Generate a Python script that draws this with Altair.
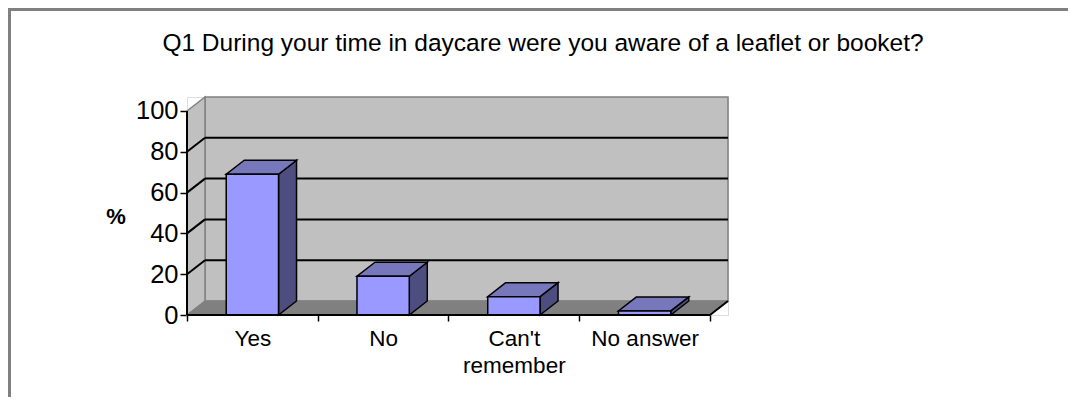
import json
import altair as alt
import pandas as pd

# ---------------- data ----------------
title_text = "Q1 During your time in daycare were you aware of a leaflet or booket?"
categories = ["Yes", "No", "Can't remember", "No answer"]
label_lines = [["Yes"], ["No"], ["Can't", "remember"], ["No answer"]]
percent = [69, 19, 9, 2]
y_ticks = [0, 20, 40, 60, 80, 100]
grid_values = [20, 40, 60, 80]
y_title = "%"

# ---------------- style / geometry ----------------
FONT = "Liberation Sans"
W, H = 541, 218
PAD = {"left": 179, "top": 89, "right": 340, "bottom": 82}
N = len(categories)
DX = 0.1377          # depth offset in category units
DY = 6.86            # depth offset in value units
BL, BR = 0.3, 0.7    # bar front face within band
XMAX = N + DX
YMAX = 100 + DY
BAND_PX = W / XMAX

FRONT = "#9999ff"
TOP = "#7777bb"
SIDE = "#4d4d80"
WALL = "#c0c0c0"
FLOOR = "#808080"
EDGE = "#808080"

xs = alt.Scale(domain=[0, XMAX], nice=False, zero=False)
ys = alt.Scale(domain=[0, YMAX], nice=False, zero=False)

label_expr = json.dumps(label_lines + [""]) + "[datum.value]"

x_axis = alt.Axis(
    values=list(range(N + 1)), tickSize=6, tickColor="black", tickWidth=1.5,
    domain=False, grid=False, labelExpr=label_expr, labelOffset=BAND_PX / 2,
    labelFlush=False, labelOverlap=False, labelFontSize=22.5, labelFont=FONT,
    labelColor="black", labelPadding=6, labelBaseline="top", labelLineHeight=27,
    labelAlign="center", title=None,
)
y_axis = alt.Axis(
    values=y_ticks, tickSize=7, tickColor="black", tickWidth=1.5, domain=False,
    grid=False, labelFontSize=25.5, labelFont=FONT, labelColor="black",
    labelPadding=2, labelFlush=False, labelOverlap=False,
    title=y_title, titleAngle=0, titleX=-71.5, titleY=119, titleAlign="center",
    titleBaseline="middle", titleFontSize=22, titleFontWeight="bold",
    titleFont=FONT, titleColor="black",
)


def X(field="x", **kw):
    return alt.X(f"{field}:Q", scale=xs, axis=x_axis, **kw)


def Y(field="y", **kw):
    return alt.Y(f"{field}:Q", scale=ys, axis=y_axis, **kw)


# ---------------- frame pieces ----------------
back_wall = pd.DataFrame({"x": [DX], "x2": [XMAX], "y": [DY], "y2": [YMAX]})
side_wall = pd.DataFrame({"x": [0, DX], "y": [100, YMAX], "y2": [0, DY]})
floor = pd.DataFrame({"y": [0, DY], "x": [0, DX], "x2": [N, XMAX]})
grid_back = pd.DataFrame({"x": DX, "x2": XMAX, "y": [v + DY for v in grid_values]})
grid_side = pd.DataFrame({"x": 0, "x2": DX, "y": grid_values,
                          "y2": [v + DY for v in grid_values]})
front_lines = pd.DataFrame({"x": [0, 0, N], "x2": [0, N, XMAX],
                            "y": [0, 0, 0], "y2": [100, 0, DY]})

# ---------------- bars ----------------
bar_front = pd.DataFrame({
    "cat": categories,
    "x": [i + BL for i in range(N)],
    "x2": [i + BR for i in range(N)],
    "y": [0] * N,
    "y2": percent,
})
top_rows, side_rows = [], []
for i, (c, v) in enumerate(zip(categories, percent)):
    top_rows.append({"cat": c, "y": v, "x": i + BL, "x2": i + BR})
    top_rows.append({"cat": c, "y": v + DY, "x": i + BL + DX, "x2": i + BR + DX})
    side_rows.append({"cat": c, "x": i + BR, "y": v, "y2": 0})
    side_rows.append({"cat": c, "x": i + BR + DX, "y": v + DY, "y2": DY})
bar_top = pd.DataFrame(top_rows)
bar_side = pd.DataFrame(side_rows)

l_back = alt.Chart(back_wall).mark_rect(fill=WALL, stroke=EDGE, strokeWidth=1.5).encode(
    x=X(), x2="x2", y=Y(), y2="y2")

l_side = alt.Chart(side_wall).mark_area(orient="vertical", fill=WALL, stroke=EDGE,
                                        strokeWidth=1.5).encode(
    x=X(), y=Y(stack=None), y2="y2")

l_floor = alt.Chart(floor).mark_area(orient="horizontal", fill=FLOOR, stroke=EDGE,
                                     strokeWidth=1).encode(
    y=Y(), x=X(stack=None), x2="x2")

l_grid_back = alt.Chart(grid_back).mark_rule(color="black", strokeWidth=2).encode(
    x=X(), x2="x2", y=Y())

l_grid_side = alt.Chart(grid_side).mark_rule(color="black", strokeWidth=2).encode(
    x=X(), x2="x2", y=Y(), y2="y2")

l_bar_side = alt.Chart(bar_side).mark_area(orient="vertical", fill=SIDE, stroke="black",
                                           strokeWidth=1.5).encode(
    x=X(), y=Y(stack=None), y2="y2", detail="cat:N")

l_bar_top = alt.Chart(bar_top).mark_area(orient="horizontal", fill=TOP, stroke="black",
                                         strokeWidth=1.5).encode(
    y=Y(), x=X(stack=None), x2="x2", detail="cat:N")

l_bar_front = alt.Chart(bar_front).mark_rect(fill=FRONT, stroke="black",
                                             strokeWidth=1.5).encode(
    x=X(), x2="x2", y=Y(), y2="y2")

l_front = alt.Chart(front_lines).mark_rule(color="black", strokeWidth=2).encode(
    x=X(), x2="x2", y=Y(), y2="y2")

one = pd.DataFrame({"t": [title_text]})
l_title = alt.Chart(one).mark_text(font=FONT, fontSize=24.5, align="center",
                                   baseline="alphabetic", color="black").encode(
    x=alt.value(543 - 187), y=alt.value(51 - 97), text="t:N")

l_border_left = alt.Chart(one).mark_rule(color="#808080", strokeWidth=3).encode(
    x=alt.value(-PAD["left"] + 1.5), y=alt.value(-PAD["top"]),
    y2=alt.value(H + PAD["bottom"]))
l_border_top = alt.Chart(one).mark_rule(color="#808080", strokeWidth=3).encode(
    y=alt.value(-PAD["top"] + 1.5), x=alt.value(-PAD["left"]),
    x2=alt.value(W + PAD["right"]))

chart = alt.layer(
    l_back, l_side, l_floor, l_grid_back, l_grid_side,
    l_bar_side, l_bar_top, l_bar_front, l_front,
    l_title, l_border_left, l_border_top,
).properties(
    width=W, height=H,
    autosize=alt.AutoSizeParams(type="none"),
    padding=PAD,
).configure_view(strokeWidth=0).configure(background="white", font=FONT)

chart.save("out.html", embed_options={"renderer": "svg", "actions": False})
